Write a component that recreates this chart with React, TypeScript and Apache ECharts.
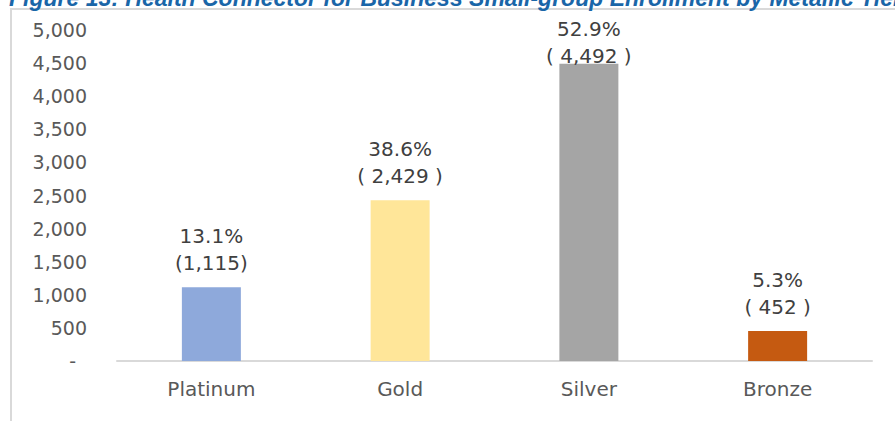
import React, { useEffect, useRef } from "react";
import * as echarts from "echarts";

const categories = ["Platinum", "Gold", "Silver", "Bronze"];
const enrollment = [1115, 2429, 4492, 452];
const shares = ["13.1%", "38.6%", "52.9%", "5.3%"];
const countLabels = ["(1,115)", "( 2,429 )", "( 4,492 )", "( 452 )"];
const barColors = ["#8EA9DB", "#FFE699", "#A5A5A5", "#C55A11"];
const titleText =
  "Figure 13: Health Connector for Business Small-group Enrollment by Metallic Tier";

const FONT = "DejaVu Sans";

export default function App() {
  const ref = useRef<HTMLDivElement>(null);
  useEffect(() => {
    if (!ref.current) return;
    const chart = echarts.init(ref.current, null, { renderer: "svg" });
    chart.setOption({
      animation: false,
      backgroundColor: "#ffffff",
      grid: { left: 117, right: 23, top: 30, bottom: 60 },
      graphic: [
        {
          type: "rect",
          shape: { x: 11, y: 9, width: 920, height: 440 },
          style: { fill: "none", stroke: "#d9d9d9", lineWidth: 2 },
          silent: true,
        },
        {
          type: "text",
          x: 9,
          y: 9,
          style: {
            text: titleText,
            font: "italic bold 23px 'Liberation Sans'",
            fill: "#1a66a8",
            textVerticalAlign: "bottom",
          },
          silent: true,
        },
      ],
      xAxis: {
        type: "category",
        data: categories,
        axisLine: { lineStyle: { color: "#d9d9d9", width: 2 } },
        axisTick: { show: false },
        axisLabel: {
          color: "#595959",
          fontFamily: FONT,
          fontSize: 20,
          margin: 18,
        },
      },
      yAxis: {
        type: "value",
        min: 0,
        max: 5000,
        interval: 500,
        axisLine: { show: false },
        axisTick: { show: false },
        splitLine: { show: false },
        axisLabel: {
          color: "#595959",
          fontFamily: FONT,
          fontSize: 19,
          margin: 30,
          formatter: (v: number) =>
            v === 0 ? "{d|-}" : v.toLocaleString("en-US"),
          rich: {
            d: {
              color: "#595959",
              fontFamily: FONT,
              fontSize: 19,
              padding: [0, 11, 0, 0],
            },
          },
        },
      },
      series: [
        {
          type: "bar",
          barWidth: 59,
          data: enrollment.map((v, i) => ({
            value: v,
            itemStyle: { color: barColors[i] },
            label:
              i === 2
                ? { distance: 0, offset: [0, 6] }
                : { distance: 11 },
          })),
          label: {
            show: true,
            position: "top",
            color: "#404040",
            fontFamily: FONT,
            fontSize: 20,
            lineHeight: 27,
            align: "center",
            formatter: (p: any) =>
              shares[p.dataIndex] + "\n" + countLabels[p.dataIndex],
          },
        },
      ],
    });
    return () => chart.dispose();
  }, []);
  return (
    <div
      ref={ref}
      style={{
        position: "fixed",
        left: 0,
        top: 0,
        width: 895,
        height: 421,
      }}
    />
  );
}
